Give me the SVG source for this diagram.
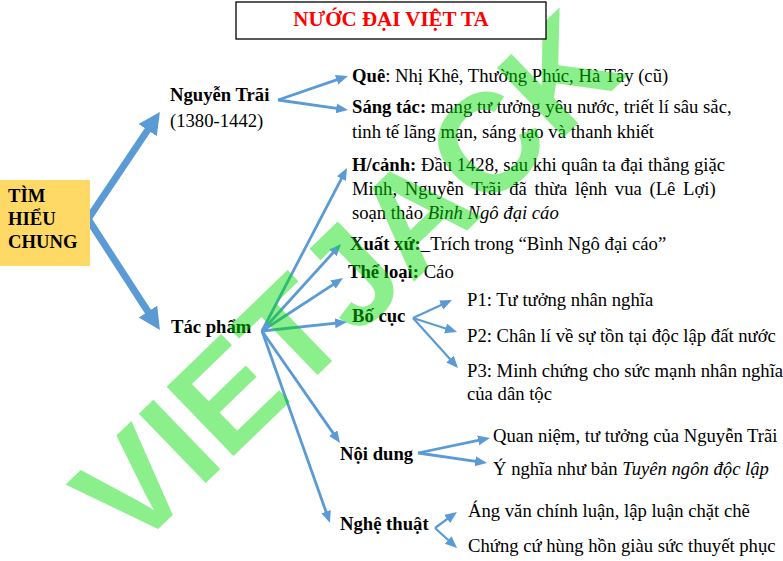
<svg xmlns="http://www.w3.org/2000/svg" width="783" height="561" viewBox="0 0 783 561">
<style>
  text { font-family: "Liberation Serif", "Times New Roman", serif; font-size: 18.67px; fill: #000; }
  .b { font-weight: bold; }
  .i { font-style: italic; }
  .title { font-size: 21px; font-weight: bold; fill: #FF0000; }
  .thick { stroke: #5B9BD5; stroke-width: 7; fill: none; marker-end: url(#big); }
  .thin { stroke: #5B9BD5; stroke-width: 2.8; fill: none; marker-end: url(#small); }
  .thin2 { stroke: #5B9BD5; stroke-width: 2.2; fill: none; marker-end: url(#small); }
  .wm { font-family: "Liberation Sans", Arial, sans-serif; font-weight: bold; font-size: 140px; fill: #00DD00; opacity: 0.45; }
</style>
<defs>
  <marker id="big" markerUnits="userSpaceOnUse" markerWidth="24" markerHeight="24" refX="10" refY="11" orient="auto">
    <path d="M0,0 L22,11 L0,22 z" fill="#5B9BD5"/>
  </marker>
  <marker id="small" markerUnits="userSpaceOnUse" markerWidth="14" markerHeight="12" refX="6" refY="5" orient="auto">
    <path d="M0,0 L12,5 L0,10 z" fill="#5B9BD5"/>
  </marker>
</defs>
<rect width="783" height="561" fill="#FFFFFF"/>

<g id="connectors">
  <line class="thick" x1="88" y1="219" x2="153.2" y2="121.9"/>
  <line class="thick" x1="88" y1="219" x2="153.4" y2="320"/>
  <line class="thin" x1="278" y1="100" x2="342.3" y2="77.9"/>
  <line class="thin" x1="278" y1="100" x2="342.1" y2="109.2"/>
  <line class="thin" x1="262" y1="331" x2="344.2" y2="173.3"/>
  <line class="thin" x1="262" y1="331" x2="337" y2="248.4"/>
  <line class="thin" x1="262" y1="331" x2="338" y2="281.3"/>
  <line class="thin" x1="262" y1="331" x2="341" y2="322.6"/>
  <line class="thin" x1="262" y1="331" x2="336.6" y2="438.1"/>
  <line class="thin" x1="262" y1="331" x2="328" y2="517.3"/>
  <line class="thin2" x1="413" y1="318" x2="446.6" y2="302.5"/>
  <line class="thin2" x1="413" y1="318" x2="451.3" y2="330.2"/>
  <line class="thin2" x1="413" y1="318" x2="454" y2="363.5"/>
  <line class="thin" x1="418" y1="453" x2="484.1" y2="439.2"/>
  <line class="thin" x1="418" y1="453" x2="481.1" y2="462.1"/>
  <line class="thin2" x1="435" y1="528" x2="452.1" y2="515.5"/>
  <line class="thin2" x1="435" y1="528" x2="452.6" y2="544"/>
</g>

<g id="root">
  <rect x="0" y="180" width="90" height="86" fill="#FFD966"/>
  <text class="b" x="8" y="202">TÌM</text>
  <text class="b" x="8" y="225">HIỂU</text>
  <text class="b" x="8" y="248">CHUNG</text>
</g>

<g id="nguyen-trai">
  <text class="b" x="170" y="101">Nguyễn Trãi</text>
  <text x="170" y="127">(1380-1442)</text>
</g>
<g id="que">
  <text x="352" y="82"><tspan class="b">Quê</tspan>: Nhị Khê, Thường Phúc, Hà Tây (cũ)</text>
</g>
<g id="sang-tac">
  <text x="352" y="113"><tspan class="b">Sáng tác:</tspan> mang tư tưởng yêu nước, triết lí sâu sắc,</text>
  <text x="352" y="138">tinh tế lãng mạn, sáng tạo và thanh khiết</text>
</g>

<g id="tac-pham">
  <text class="b" x="171" y="333">Tác phẩm</text>
</g>
<g id="hoan-canh">
  <text x="352" y="171"><tspan class="b">H/cảnh:</tspan> Đầu 1428, sau khi quân ta đại thắng giặc</text>
  <text x="352" y="195" word-spacing="3">Minh, Nguyễn Trãi đã thừa lệnh vua (Lê Lợi)</text>
  <text x="352" y="219">soạn thảo <tspan class="i">Bình Ngô đại cáo</tspan></text>
</g>
<g id="xuat-xu">
  <text x="350" y="250"><tspan class="b">Xuất xứ:</tspan>_Trích trong “Bình Ngô đại cáo”</text>
</g>
<g id="the-loai">
  <text x="348" y="278"><tspan class="b">Thể loại:</tspan> Cáo</text>
</g>
<g id="bo-cuc">
  <text class="b" x="352" y="322">Bố cục</text>
</g>
<g id="p1"><text x="467" y="306">P1: Tư tưởng nhân nghĩa</text></g>
<g id="p2"><text x="467" y="342">P2: Chân lí về sự tồn tại độc lập đất nước</text></g>
<g id="p3">
  <text x="467" y="377">P3: Minh chứng cho sức mạnh nhân nghĩa</text>
  <text x="467" y="400">của dân tộc</text>
</g>
<g id="noi-dung">
  <text class="b" x="340" y="460">Nội dung</text>
</g>
<g id="nd1"><text x="493" y="442">Quan niệm, tư tưởng của Nguyễn Trãi</text></g>
<g id="nd2"><text x="493" y="475">Ý nghĩa như bản <tspan class="i">Tuyên ngôn độc lập</tspan></text></g>
<g id="nghe-thuat">
  <text class="b" x="340" y="530">Nghệ thuật</text>
</g>
<g id="nt1"><text x="468" y="517">Áng văn chính luận, lập luận chặt chẽ</text></g>
<g id="nt2"><text x="468" y="552">Chứng cứ hùng hồn giàu sức thuyết phục</text></g>

<g id="watermark">
  <text class="wm" transform="translate(346,278) rotate(-44)" x="0" y="50" text-anchor="middle">VIETJACK</text>
</g>

<g id="title">
  <rect x="236" y="2" width="310" height="37" fill="#FFFFFF" stroke="#000" stroke-width="1.3"/>
  <text class="title" x="391" y="26" text-anchor="middle">NƯỚC ĐẠI VIỆT TA</text>
</g>
</svg>
